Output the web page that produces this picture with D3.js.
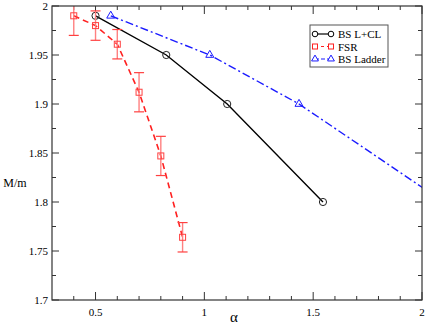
<!DOCTYPE html>
<html>
<head>
<meta charset="utf-8">
<script src="https://cdn.jsdelivr.net/npm/d3@7"></script>
<style>
  body { margin: 0; background: #fff; }
</style>
</head>
<body>
<div id="chart"></div>
<script>
// BS L+CL (solid black, circles)
const lclAlpha = [0.5, 0.825, 1.105, 1.545];
const lclMass = [1.99, 1.95, 1.9, 1.8];

// FSR (dashed red, squares, with error bars)
const fsrAlpha = [0.4, 0.5, 0.6, 0.7, 0.8, 0.9];
const fsrMass = [1.99, 1.98, 1.961, 1.912, 1.847, 1.764];
const fsrErr = [0.02, 0.015, 0.015, 0.02, 0.02, 0.015];

// BS Ladder (dash-dot blue, triangles)
const ladAlpha = [0.57, 1.025, 1.435, 2.1];
const ladMass = [1.99, 1.95, 1.9, 1.8];

const xTicks = [0.5, 1, 1.5, 2];
const yTicks = [1.7, 1.75, 1.8, 1.85, 1.9, 1.95, 2];

const width = 425, height = 327;
const margin = { top: 6, right: 3, bottom: 27, left: 52 };
const innerW = width - margin.left - margin.right;
const innerH = height - margin.top - margin.bottom;
const FONT = "'Liberation Serif', 'Times New Roman', serif";

const svg = d3.select('#chart').append('svg')
  .attr('width', width).attr('height', height)
  .attr('font-family', FONT);

const g = svg.append('g')
  .attr('transform', `translate(${margin.left},${margin.top})`);

const x = d3.scaleLinear().domain([0.3, 2]).range([0, innerW]);
const y = d3.scaleLinear().domain([1.7, 2]).range([innerH, 0]);

svg.append('defs').append('clipPath').attr('id', 'clip')
  .append('rect').attr('width', innerW).attr('height', innerH);

// ticks, inward on all four sides
const xMinor = d3.range(0.4, 2.0, 0.1).filter(v => Math.abs(v * 2 - Math.round(v * 2)) > 1e-6);
const yMinor = d3.range(1.725, 2, 0.05);
const tickColor = '#333';

function axisTicks(vals, len) {
  vals.forEach(v => {
    g.append('line').attr('x1', x(v)).attr('x2', x(v)).attr('y1', innerH).attr('y2', innerH - len).attr('stroke', tickColor);
    g.append('line').attr('x1', x(v)).attr('x2', x(v)).attr('y1', 0).attr('y2', len).attr('stroke', tickColor);
  });
}
function axisTicksY(vals, len) {
  vals.forEach(v => {
    g.append('line').attr('y1', y(v)).attr('y2', y(v)).attr('x1', 0).attr('x2', len).attr('stroke', tickColor);
    g.append('line').attr('y1', y(v)).attr('y2', y(v)).attr('x1', innerW).attr('x2', innerW - len).attr('stroke', tickColor);
  });
}
axisTicks(xTicks, 8);
axisTicks(xMinor, 4);
axisTicksY(yTicks, 7);
axisTicksY(yMinor, 4);

// tick labels
g.selectAll('.xl').data(xTicks).enter().append('text')
  .attr('x', d => x(d)).attr('y', innerH + 16)
  .attr('text-anchor', 'middle').attr('font-size', 11)
  .text(d => d);
g.selectAll('.yl').data(yTicks).enter().append('text')
  .attr('x', -4).attr('y', d => y(d) + 3.5)
  .attr('text-anchor', 'end').attr('font-size', 11)
  .text(d => d);

// axis titles
svg.append('text').attr('x', 15).attr('y', 187)
  .attr('text-anchor', 'middle').attr('font-size', 12).text('M/m');
svg.append('text').attr('x', 234).attr('y', 322)
  .attr('text-anchor', 'middle').attr('font-size', 15).text('α');

const plot = g.append('g').attr('clip-path', 'url(#clip)');
const line = d3.line().x(d => x(d[0])).y(d => y(d[1]));

// BS Ladder
const lad = ladAlpha.map((a, i) => [a, ladMass[i]]);
plot.append('path').datum(lad).attr('d', line)
  .attr('fill', 'none').attr('stroke', '#1a1aff').attr('stroke-width', 1.4)
  .attr('stroke-dasharray', '8,3,2,3');
const tri = d3.symbol().type(d3.symbolTriangle).size(28);
plot.selectAll('.tri').data(lad).enter().append('path')
  .attr('d', tri).attr('transform', d => `translate(${x(d[0])},${y(d[1])})`)
  .attr('fill', 'none').attr('stroke', '#1a1aff').attr('stroke-width', 1);

// BS L+CL
const lcl = lclAlpha.map((a, i) => [a, lclMass[i]]);
plot.append('path').datum(lcl).attr('d', line)
  .attr('fill', 'none').attr('stroke', '#000').attr('stroke-width', 1.4);
plot.selectAll('.circ').data(lcl).enter().append('circle')
  .attr('cx', d => x(d[0])).attr('cy', d => y(d[1])).attr('r', 3.6)
  .attr('fill', 'none').attr('stroke', '#222').attr('stroke-width', 1);

// FSR
const fsr = fsrAlpha.map((a, i) => [a, fsrMass[i], fsrErr[i]]);
plot.append('path').datum(fsr).attr('d', line)
  .attr('fill', 'none').attr('stroke', '#ff2020').attr('stroke-width', 1.6)
  .attr('stroke-dasharray', '6,4');
const eb = plot.selectAll('.eb').data(fsr).enter().append('g');
eb.append('line')
  .attr('x1', d => x(d[0])).attr('x2', d => x(d[0]))
  .attr('y1', d => y(d[1] - d[2])).attr('y2', d => y(d[1] + d[2]))
  .attr('stroke', '#ff8080').attr('stroke-width', 1.4);
[-1, 1].forEach(s => {
  eb.append('line')
    .attr('x1', d => x(d[0]) - 5).attr('x2', d => x(d[0]) + 5)
    .attr('y1', d => y(d[1] + s * d[2])).attr('y2', d => y(d[1] + s * d[2]))
    .attr('stroke', '#ff4040').attr('stroke-width', 1.2);
});
eb.append('rect')
  .attr('x', d => x(d[0]) - 3).attr('y', d => y(d[1]) - 3)
  .attr('width', 6).attr('height', 6)
  .attr('fill', 'none').attr('stroke', '#ff4040').attr('stroke-width', 1);

// frame
g.append('rect').attr('width', innerW).attr('height', innerH)
  .attr('fill', 'none').attr('stroke', '#333').attr('stroke-width', 1.2);

// legend
const leg = svg.append('g').attr('transform', 'translate(310,25)');
leg.append('rect').attr('width', 78).attr('height', 42)
  .attr('fill', '#fff').attr('stroke', '#555').attr('stroke-width', 1);
const legItems = [
  { label: 'BS L+CL', color: '#000', dash: null, mark: 'circle' },
  { label: 'FSR', color: '#ff2020', dash: '3,3', mark: 'square' },
  { label: 'BS Ladder', color: '#1a1aff', dash: '4,2', mark: 'triangle' },
];
legItems.forEach((it, i) => {
  const yy = 9 + i * 12.5;
  leg.append('line').attr('x1', 5).attr('x2', 21).attr('y1', yy).attr('y2', yy)
    .attr('stroke', it.color).attr('stroke-width', 1.2)
    .attr('stroke-dasharray', it.dash);
  [5, 21].forEach(px => {
    if (it.mark === 'circle') {
      leg.append('circle').attr('cx', px).attr('cy', yy).attr('r', 2.8)
        .attr('fill', '#fff').attr('stroke', it.color);
    } else if (it.mark === 'square') {
      leg.append('rect').attr('x', px - 2.5).attr('y', yy - 2.5).attr('width', 5).attr('height', 5)
        .attr('fill', '#fff').attr('stroke', it.color);
    } else {
      leg.append('path').attr('d', d3.symbol().type(d3.symbolTriangle).size(20))
        .attr('transform', `translate(${px},${yy})`)
        .attr('fill', '#fff').attr('stroke', it.color);
    }
  });
  leg.append('text').attr('x', 28).attr('y', yy + 4)
    .attr('font-size', 11).text(it.label);
});
</script>
</body>
</html>
